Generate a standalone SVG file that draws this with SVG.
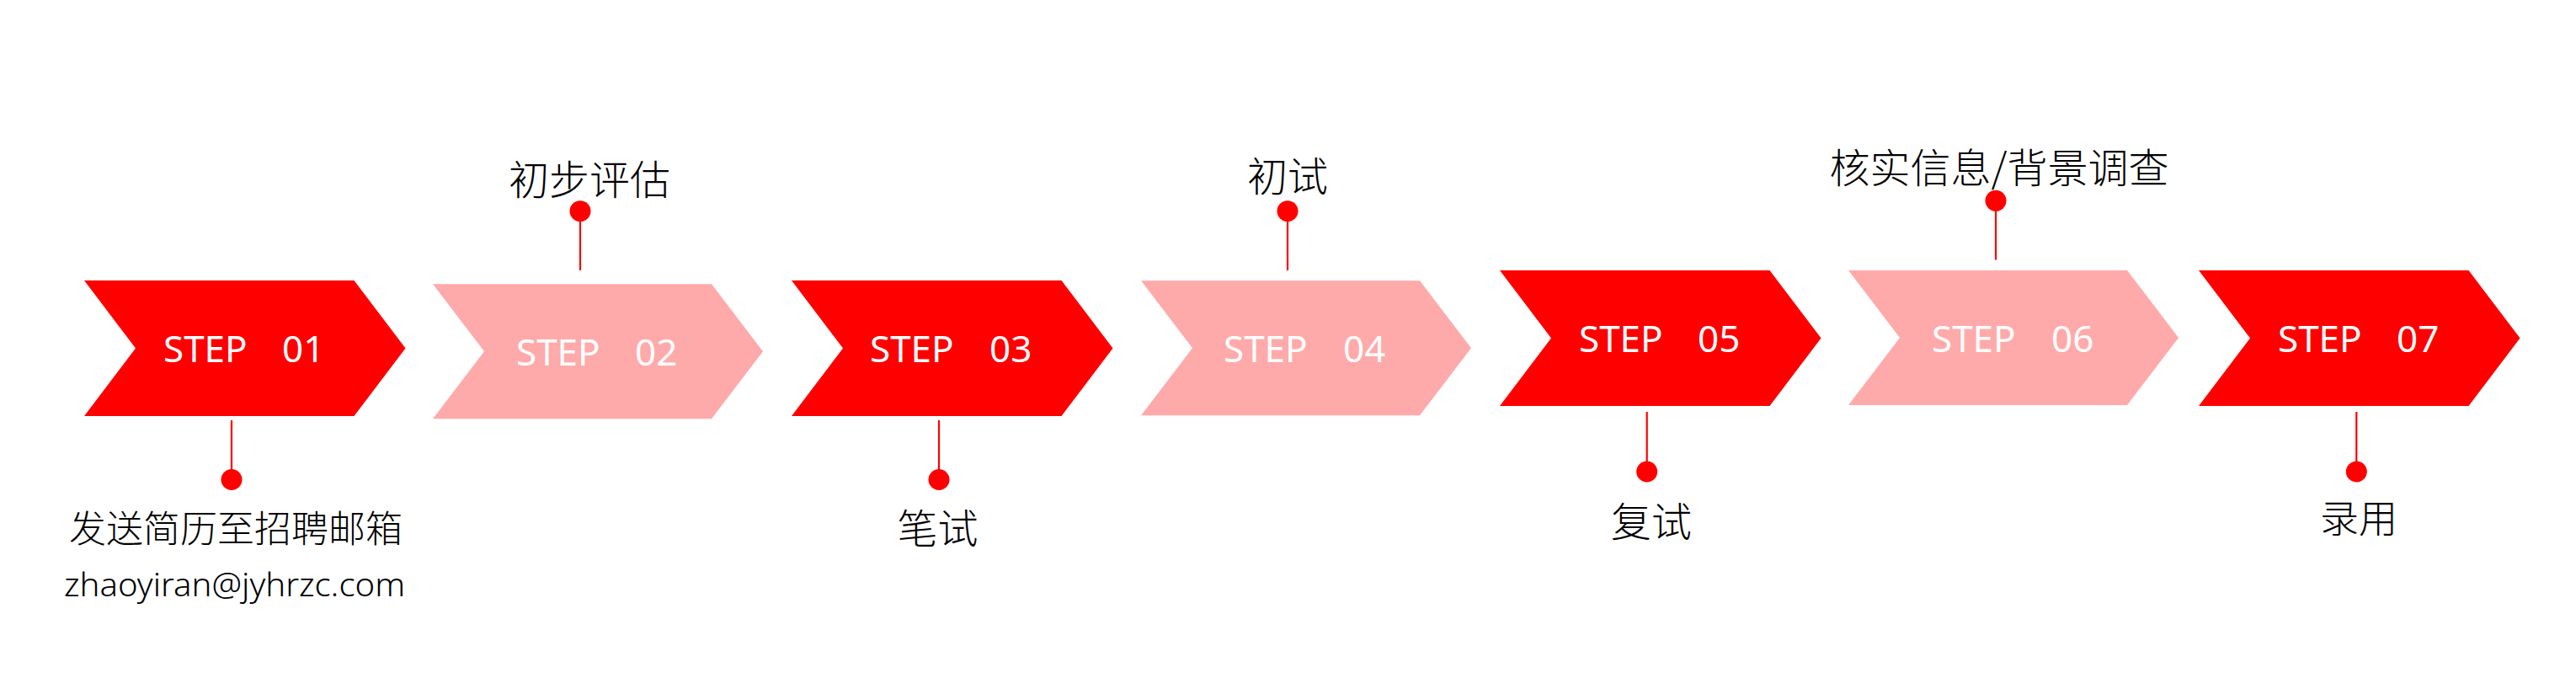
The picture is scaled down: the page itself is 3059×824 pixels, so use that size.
<svg xmlns="http://www.w3.org/2000/svg" width="3059" height="824" viewBox="0 0 3059 824">
<defs>
<style>
.red{fill:#FF0000}
.pink{fill:#FFAAAA}
.step{font-family:"Noto Sans","DejaVu Sans",sans-serif;font-size:44px;fill:#FFFFFF}
.lbl{font-family:"Noto Sans CJK SC","Noto Sans",sans-serif;font-weight:300;font-size:48px;fill:#000000;text-anchor:middle}
.mail{font-family:"Noto Sans","DejaVu Sans",sans-serif;font-weight:300;font-size:38px;fill:#000000}
.ln{stroke:#FF0000;stroke-width:2.2;fill:none}
.dot{fill:#FF0000}
</style>
<polygon id="chev" points="0,0 320.5,0 381.5,80.5 320.5,161 0,161 61,80.5"/>
<polygon id="chevw" points="0,0 331,0 392,80 331,160 0,160 61,80"/>
</defs>
<rect width="3059" height="824" fill="#FFFFFF"/>

<g id="step01">
<use href="#chev" class="red" x="100" y="333"/>
<text class="step" x="194" y="430">STEP</text>
<text class="step" x="335" y="430">01</text>
<text class="lbl" x="280" y="644" style="font-size:44px">发送简历至招聘邮箱</text>
<text class="mail" x="76" y="708" textLength="405" lengthAdjust="spacingAndGlyphs">zhaoyiran@jyhrzc.com</text>
</g>

<g id="step02">
<use href="#chevw" class="pink" x="514" y="337.3"/>
<text class="step" x="613" y="433.5">STEP</text>
<text class="step" x="754" y="433.5">02</text>
<text class="lbl" x="700" y="231">初步评估</text>
</g>

<g id="step03">
<use href="#chev" class="red" x="940" y="333"/>
<text class="step" x="1033" y="430">STEP</text>
<text class="step" x="1175" y="430">03</text>
<text class="lbl" x="1113.5" y="644.5">笔试</text>
</g>

<g id="step04">
<use href="#chevw" class="pink" x="1355" y="333.3"/>
<text class="step" x="1453" y="429.5">STEP</text>
<text class="step" x="1595" y="429.5">04</text>
<text class="lbl" x="1529" y="226.5">初试</text>
</g>

<g id="step05">
<use href="#chev" class="red" x="1781" y="321"/>
<text class="step" x="1875" y="417.5">STEP</text>
<text class="step" x="2016" y="417.5">05</text>
<text class="lbl" x="1961" y="636.5">复试</text>
</g>

<g id="step06">
<use href="#chevw" class="pink" x="2195" y="321"/>
<text class="step" x="2294" y="417.5">STEP</text>
<text class="step" x="2436" y="417.5">06</text>
<text class="lbl" x="2374" y="216.5">核实信息/背景调查</text>
</g>

<g id="step07">
<use href="#chev" class="red" x="2611" y="321"/>
<text class="step" x="2705" y="417.5">STEP</text>
<text class="step" x="2846" y="417.5">07</text>
<text class="lbl" x="2801" y="632" style="font-size:46px">录用</text>
</g>

<g id="connectors">
<line class="ln" x1="275" y1="499" x2="275" y2="566"/>
<circle class="dot" cx="275" cy="569.5" r="12.5"/>
<line class="ln" x1="689" y1="254" x2="689" y2="321"/>
<circle class="dot" cx="689" cy="250.7" r="12.5"/>
<line class="ln" x1="1115" y1="499" x2="1115" y2="566"/>
<circle class="dot" cx="1115" cy="569.5" r="12.5"/>
<line class="ln" x1="1529" y1="254" x2="1529" y2="321"/>
<circle class="dot" cx="1529" cy="250.7" r="12.5"/>
<line class="ln" x1="1955.7" y1="489" x2="1955.7" y2="556"/>
<circle class="dot" cx="1955.7" cy="560" r="12.5"/>
<line class="ln" x1="2370" y1="242" x2="2370" y2="308.5"/>
<circle class="dot" cx="2370" cy="238.3" r="12.5"/>
<line class="ln" x1="2798.3" y1="489" x2="2798.3" y2="556"/>
<circle class="dot" cx="2798.3" cy="560" r="12.5"/>
</g>
</svg>
